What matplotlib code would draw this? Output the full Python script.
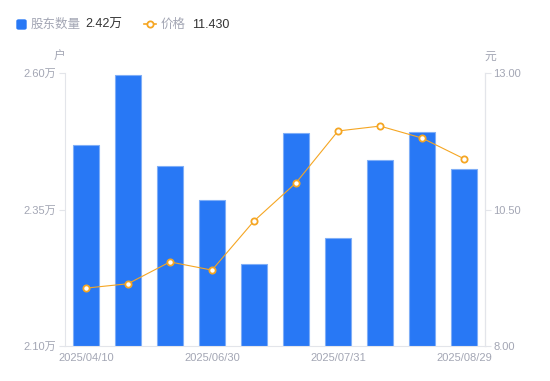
import matplotlib
matplotlib.use("Agg")
import matplotlib.pyplot as plt
from matplotlib.lines import Line2D
from matplotlib.patches import FancyBboxPatch
import numpy as np

plt.rcParams['font.family'] = ['Liberation Sans', 'Noto Sans CJK SC', 'DejaVu Sans']

x_labels = ["2025/04/10", "", "", "2025/06/30", "", "", "2025/07/31", "", "", "2025/08/29"]
holders = [2.468, 2.596, 2.430, 2.367, 2.250, 2.490, 2.298, 2.441, 2.492, 2.424]  # 万户
price = [9.06, 9.14, 9.54, 9.39, 10.29, 10.99, 11.94, 12.03, 11.81, 11.43]
left_ticks = [2.10, 2.35, 2.60]
right_ticks = [8.00, 10.50, 13.00]

BLUE = "#2878F5"
ORANGE = "#F5A623"
GRAY = "#A3A6B4"
AXIS = "#E3E5EA"

fig = plt.figure(figsize=(5.5, 3.81), dpi=100)
ax = fig.add_axes([0.118, 0.092, 0.764, 0.716])
x = np.arange(len(holders))
ax.bar(x, holders, width=0.6, color=BLUE, edgecolor="#7FAEF7", linewidth=0.8, zorder=2)
ax.set_xlim(-0.5, len(holders) - 0.5)
ax.set_ylim(left_ticks[0], left_ticks[-1])
ax.set_yticks(left_ticks)
ax.set_yticklabels([f"{v:.2f}万" for v in left_ticks])
ax.set_xticks(x)
ax.set_xticklabels(x_labels)
ax.tick_params(axis='x', length=0, pad=5, labelsize=8, labelcolor=GRAY)
ax.tick_params(axis='y', length=4, width=0.8, color=AXIS, pad=2, labelsize=8, labelcolor=GRAY)
ax.spines['top'].set_visible(False)
for s in ['left', 'bottom', 'right']:
    ax.spines[s].set_color(AXIS)
    ax.spines[s].set_linewidth(0.8)

ax2 = ax.twinx()
ax2.plot(x, price, color=ORANGE, linewidth=0.8, marker='o', markersize=4.5,
         markerfacecolor='white', markeredgecolor=ORANGE, markeredgewidth=1.3, zorder=3)
ax2.set_ylim(right_ticks[0], right_ticks[-1])
ax2.set_yticks(right_ticks)
ax2.set_yticklabels([f"{v:.2f}" for v in right_ticks])
ax2.tick_params(axis='y', length=4, width=0.8, color=AXIS, pad=2, labelsize=8, labelcolor=GRAY)
for s in ['top', 'left', 'bottom']:
    ax2.spines[s].set_visible(False)
ax2.spines['right'].set_color(AXIS)
ax2.spines['right'].set_linewidth(0.8)

fig.text(60/550, 1 - 57/381, "户", fontsize=8.5, color=GRAY, ha='center', va='center')
fig.text(490/550, 1 - 57/381, "元", fontsize=8.5, color=GRAY, ha='center', va='center')

# Legend
fig.patches.append(FancyBboxPatch((17/550, 1 - 29/381), 9/550, 9/381,
                                  boxstyle="round,pad=0,rounding_size=0.003",
                                  transform=fig.transFigure, color=BLUE, figure=fig))
fig.text(31/550, 1 - 24.5/381, "股东数量", fontsize=9, color=GRAY, va='center')
fig.text(85/550, 1 - 24.5/381, f"{holders[-1]:.2f}万", fontsize=9, color="#333333", va='center')
fig.lines.append(Line2D([144/550, 156/550], [1 - 24/381, 1 - 24/381], transform=fig.transFigure,
                        color=ORANGE, linewidth=1.2))
fig.lines.append(Line2D([150/550], [1 - 24/381], transform=fig.transFigure, color=ORANGE,
                        marker='o', markersize=4.5, markerfacecolor='white',
                        markeredgecolor=ORANGE, markeredgewidth=1.3, linestyle='none'))
fig.text(161/550, 1 - 24.5/381, "价格", fontsize=9, color=GRAY, va='center')
fig.text(192/550, 1 - 24.5/381, f"{price[-1]:.3f}", fontsize=9, color="#333333", va='center')

fig.savefig("out.png", dpi=100)
